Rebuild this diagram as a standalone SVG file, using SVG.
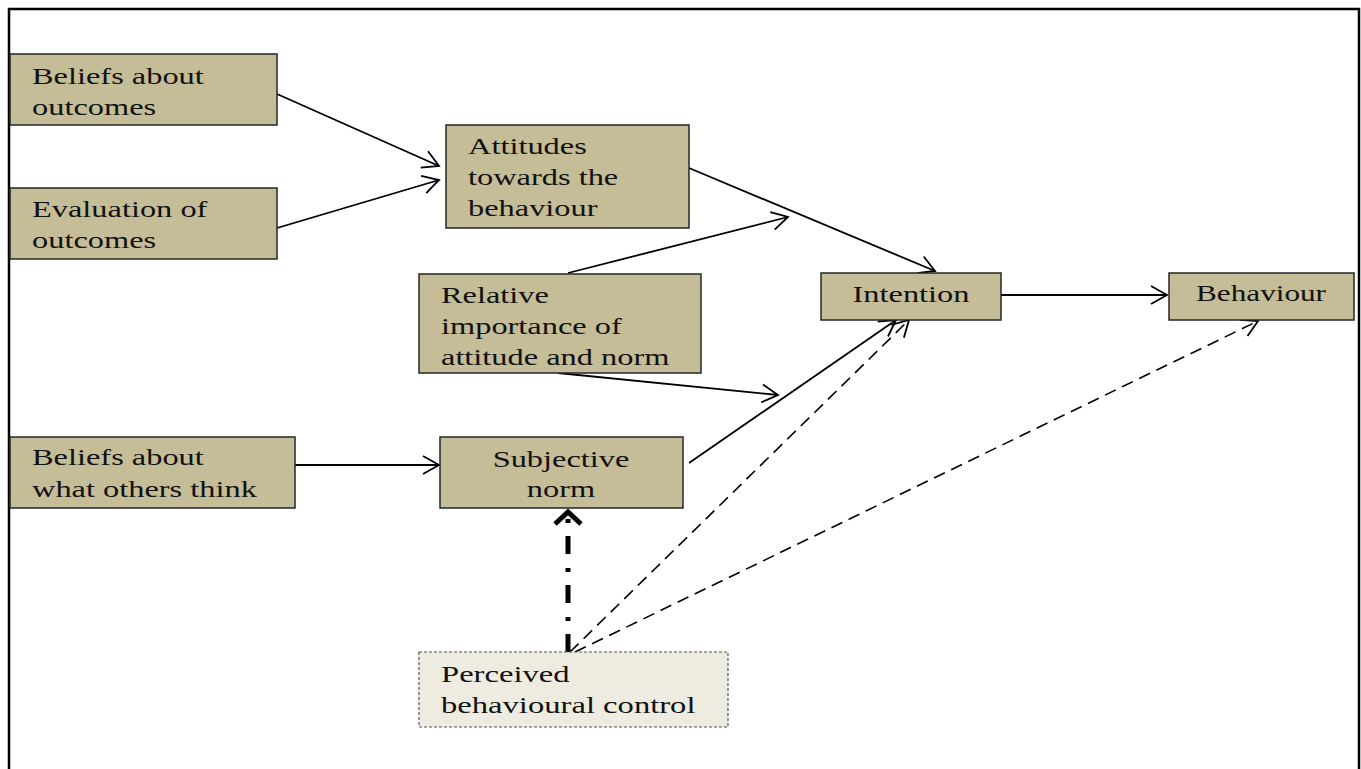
<svg xmlns="http://www.w3.org/2000/svg" width="1361" height="769" viewBox="0 0 1361 769">
<defs>
<style>
.box{fill:#C4BD97;stroke:#262626;stroke-width:1.5}
.pbc{fill:#EEECE1;stroke:#555;stroke-width:1.2;stroke-dasharray:3 2}
.t{font-family:"Liberation Serif","Times New Roman",serif;font-size:24px;fill:#111}
.c{fill:none;stroke:#000;stroke-width:1.8}
.d{fill:none;stroke:#000;stroke-width:1.6;stroke-dasharray:12 7}
</style>
<marker id="ah" viewBox="0 0 20 20" refX="18" refY="10" markerWidth="20" markerHeight="20" markerUnits="userSpaceOnUse" orient="auto">
<path d="M2,1 L18,10 L2,19" fill="none" stroke="#000" stroke-width="1.8"/>
</marker>
</defs>
<rect x="0" y="0" width="1361" height="769" fill="#fff"/>
<rect x="9" y="9" width="1350" height="820" fill="none" stroke="#000" stroke-width="2.5"/>

<g id="connectors">
<line class="c" x1="277" y1="94" x2="439" y2="166" marker-end="url(#ah)"/>
<line class="c" x1="277" y1="228" x2="439" y2="180" marker-end="url(#ah)"/>
<line class="c" x1="689" y1="168" x2="935" y2="271" marker-end="url(#ah)"/>
<line class="c" x1="568" y1="273" x2="788" y2="217" marker-end="url(#ah)"/>
<line class="c" x1="558" y1="373" x2="778" y2="395" marker-end="url(#ah)"/>
<line class="c" x1="689" y1="463" x2="896" y2="320" marker-end="url(#ah)"/>
<line class="d" x1="570" y1="652" x2="909" y2="320" marker-end="url(#ah)"/>
<line class="d" x1="575" y1="652" x2="1258" y2="321" marker-end="url(#ah)"/>
<line class="c" x1="1001" y1="295" x2="1167" y2="295" marker-end="url(#ah)"/>
<line class="c" x1="295" y1="465" x2="439" y2="465" marker-end="url(#ah)"/>
<line fill="none" stroke="#000" stroke-width="5" stroke-dasharray="18 13 4 14" x1="568" y1="652" x2="568" y2="514"/>
<path d="M555,524 L568,512 L581,524" fill="none" stroke="#000" stroke-width="5" stroke-linejoin="miter"/>
</g>

<g id="beliefs-outcomes">
<rect class="box" x="10" y="54" width="267" height="71"/>
<text class="t" transform="translate(32,84) scale(1.35,1)"><tspan x="0" y="0">Beliefs about</tspan><tspan x="0" y="31">outcomes</tspan></text>
</g>
<g id="evaluation-outcomes">
<rect class="box" x="10" y="188" width="267" height="71"/>
<text class="t" transform="translate(32,217) scale(1.35,1)"><tspan x="0" y="0">Evaluation of</tspan><tspan x="0" y="31">outcomes</tspan></text>
</g>
<g id="attitudes">
<rect class="box" x="446" y="125" width="243" height="103"/>
<text class="t" transform="translate(468,154) scale(1.35,1)"><tspan x="0" y="0">Attitudes</tspan><tspan x="0" y="31">towards the</tspan><tspan x="0" y="62">behaviour</tspan></text>
</g>
<g id="relative-importance">
<rect class="box" x="419" y="274" width="282" height="99"/>
<text class="t" transform="translate(441,303) scale(1.35,1)"><tspan x="0" y="0">Relative</tspan><tspan x="0" y="31">importance of</tspan><tspan x="0" y="62">attitude and norm</tspan></text>
</g>
<g id="intention">
<rect class="box" x="821" y="273" width="180" height="47"/>
<text class="t" text-anchor="middle" transform="translate(911,302) scale(1.35,1)">Intention</text>
</g>
<g id="behaviour">
<rect class="box" x="1169" y="273" width="185" height="47"/>
<text class="t" text-anchor="middle" transform="translate(1261,301) scale(1.3,1)">Behaviour</text>
</g>
<g id="beliefs-others">
<rect class="box" x="10" y="437" width="285" height="71"/>
<text class="t" transform="translate(32,465) scale(1.35,1)"><tspan x="0" y="0">Beliefs about</tspan><tspan x="0" y="32">what others think</tspan></text>
</g>
<g id="subjective-norm">
<rect class="box" x="440" y="437" width="243" height="71"/>
<text class="t" text-anchor="middle" transform="translate(561,467) scale(1.35,1)"><tspan x="0" y="0">Subjective</tspan><tspan x="0" y="30">norm</tspan></text>
</g>
<g id="perceived-control">
<rect class="pbc" x="419" y="652" width="309" height="75"/>
<text class="t" transform="translate(441,682) scale(1.36,1)"><tspan x="0" y="0">Perceived</tspan><tspan x="0" y="31">behavioural control</tspan></text>
</g>
</svg>
